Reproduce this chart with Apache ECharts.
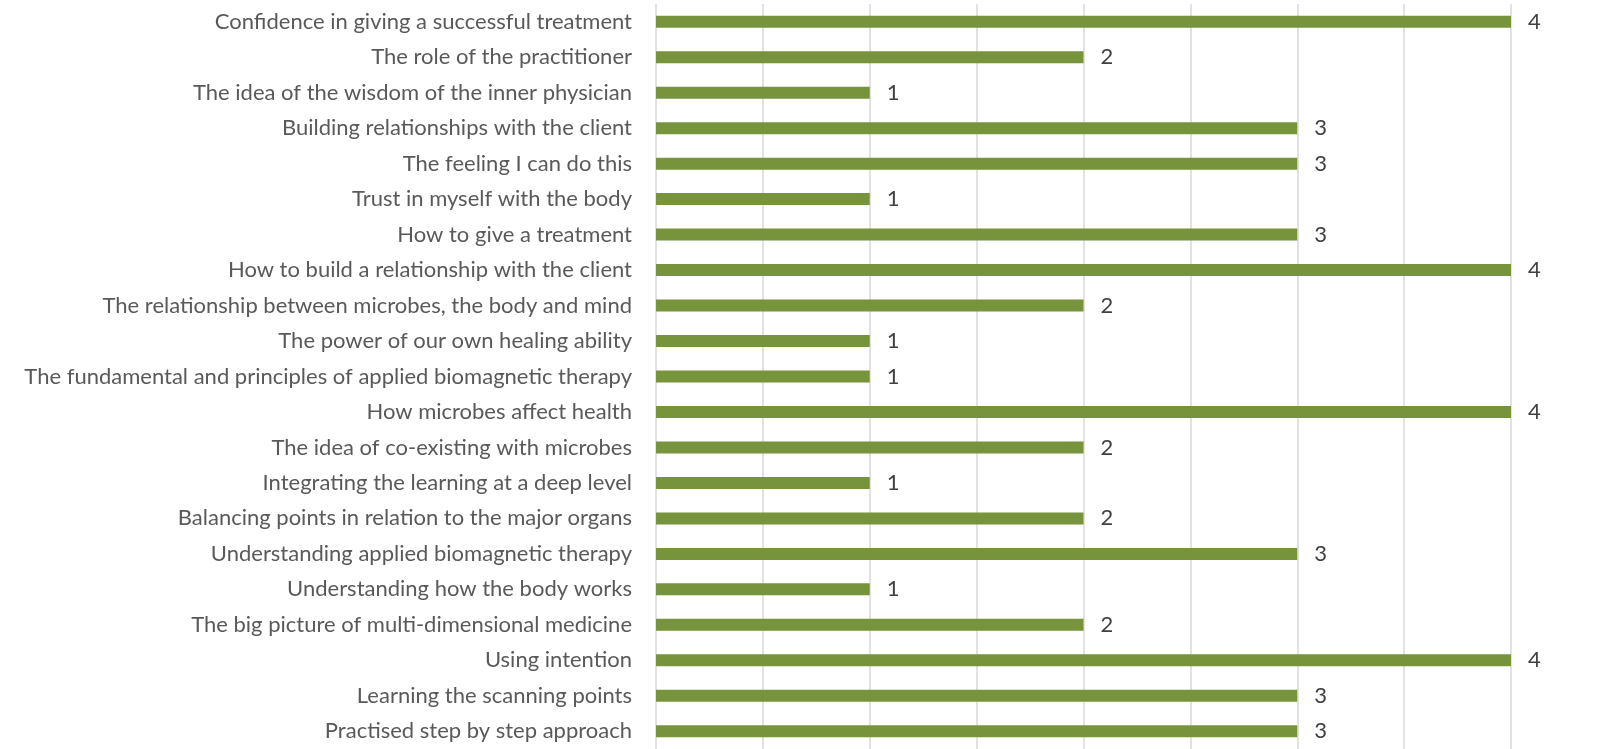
<!DOCTYPE html>
<html>
<head>
<meta charset="utf-8">
<script src="https://cdn.jsdelivr.net/npm/echarts@6/dist/echarts.min.js"></script>
<style>html,body{margin:0;padding:0;background:#fff;overflow:hidden;}#c{width:1600px;height:749px;}</style>
</head>
<body>
<div id="c"></div>
<script>
const categories = [
  "Confidence in giving a successful treatment",
  "The role of the practitioner",
  "The idea of the wisdom of the inner physician",
  "Building relationships with the client",
  "The feeling I can do this",
  "Trust in myself with the body",
  "How to give a treatment",
  "How to build a relationship with the client",
  "The relationship between microbes, the body and mind",
  "The power of our own healing ability",
  "The fundamental and principles of applied biomagnetic therapy",
  "How microbes affect health",
  "The idea of co-existing with microbes",
  "Integrating the learning at a deep level",
  "Balancing points in relation to the major organs",
  "Understanding applied biomagnetic therapy",
  "Understanding how the body works",
  "The big picture of multi-dimensional medicine",
  "Using intention",
  "Learning the scanning points",
  "Practised step by step approach"
];
const values = [4,2,1,3,3,1,3,4,2,1,1,4,2,1,2,3,1,2,4,3,3];

const chart = echarts.init(document.getElementById('c'));
chart.setOption({
  animation: false,
  grid: { left: 656, right: 89, top: 4, bottom: -3 },
  xAxis: {
    type: 'value', min: 0, max: 4, interval: 0.5,
    axisLabel: { show: false },
    axisLine: { show: false },
    axisTick: { show: false },
    splitLine: { show: true, lineStyle: { color: '#d9d9d9', width: 1.5 } }
  },
  yAxis: {
    type: 'category', data: categories, inverse: true,
    axisLine: { show: false },
    axisTick: { show: false },
    axisLabel: { color: '#595959', fontSize: 22, fontFamily: 'Lato, Open Sans, sans-serif', margin: 24 }
  },
  series: [{
    type: 'bar', data: values, barWidth: 12,
    itemStyle: { color: '#77933C' },
    label: { show: true, position: 'right', distance: 17, color: '#404040', fontSize: 22, fontFamily: 'Lato, Open Sans, sans-serif' }
  }]
});
</script>
</body>
</html>
